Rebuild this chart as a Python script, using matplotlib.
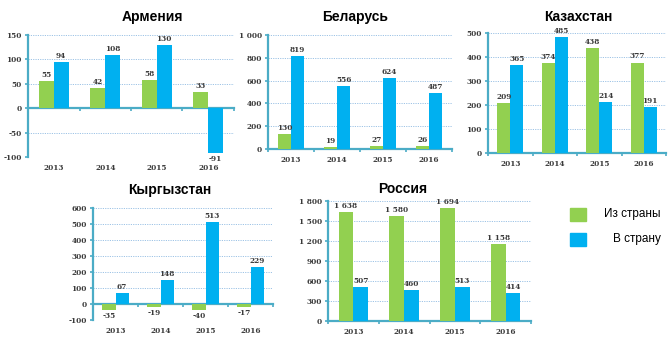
"""
plot.py — Migration balance by country, 2013-2016 (two series per year).
Saves out.png at 671x340 px.
"""

import matplotlib
matplotlib.use("Agg")
import matplotlib.pyplot as plt
from matplotlib.patches import Rectangle
import numpy as np

W, H, DPI = 671, 340, 100

YEARS = ["2013", "2014", "2015", "2016"]

ARMENIA_OUT = [55, 42, 58, 33]
ARMENIA_IN = [94, 108, 130, -91]

BELARUS_OUT = [130, 19, 27, 26]
BELARUS_IN = [819, 556, 624, 487]

KAZAKH_OUT = [209, 374, 438, 377]
KAZAKH_IN = [365, 485, 214, 191]

KYRGYZ_OUT = [-35, -19, -40, -17]
KYRGYZ_IN = [67, 148, 513, 229]

RUSSIA_OUT = [1638, 1580, 1694, 1158]
RUSSIA_IN = [507, 460, 513, 414]

LEGEND_LABELS = ["Из страны", "В страну"]

GREEN = "#92D050"
BLUE = "#00B0F0"
AXIS_COL = "#4BACC6"
GRID_COL = "#9DC3E6"
TEXT_COL = "#3A3A3A"
TICK_FONT = "DejaVu Serif"
TICK_SIZE = 5.3

# pixel boxes: (title, out, in, left, right, top, bottom, ymin, ymax, ystep, title_x, title_y)
PANELS = [
    ("Армения", ARMENIA_OUT, ARMENIA_IN, 28, 234, 35, 157, -100, 150, 50, 152, 17),
    ("Беларусь", BELARUS_OUT, BELARUS_IN, 268, 452, 35, 149, 0, 1000, 200, 355, 17),
    ("Казахстан", KAZAKH_OUT, KAZAKH_IN, 488, 666, 33, 153, 0, 500, 100, 578, 17),
    ("Кыргызстан", KYRGYZ_OUT, KYRGYZ_IN, 93, 273, 208, 320, -100, 600, 100, 170, 190),
    ("Россия", RUSSIA_OUT, RUSSIA_IN, 328, 531, 201, 321, 0, 1800, 300, 403, 189),
]


def fmt(v):
    return f"{v:,}".replace(",", " ")


def px_box(left, right, top, bottom):
    return [left / W, 1 - bottom / H, (right - left) / W, (bottom - top) / H]


def draw_panel(fig, title, out_vals, in_vals, left, right, top, bottom,
               ymin, ymax, ystep, tx, ty):
    ax = fig.add_axes(px_box(left, right, top, bottom))
    x = np.arange(len(YEARS))
    bw = 0.29
    txt = dict(fontsize=TICK_SIZE, family=TICK_FONT, fontweight="bold", color=TEXT_COL)

    ax.bar(x - bw / 2, out_vals, bw, color=GREEN, zorder=3)
    ax.bar(x + bw / 2, in_vals, bw, color=BLUE, zorder=3)

    for xs, vals in ((x - bw / 2, out_vals), (x + bw / 2, in_vals)):
        for xi, v in zip(xs, vals):
            off = 1.5 if v >= 0 else -1.5
            ax.annotate(fmt(v), (xi, v), xytext=(0, off), textcoords="offset points",
                        ha="center", va="bottom" if v >= 0 else "top", zorder=4, **txt)

    ax.set_xlim(-0.5, len(YEARS) - 0.5)
    ax.set_ylim(ymin, ymax)
    yt = np.arange(ymin, ymax + 1, ystep)
    ax.set_yticks(yt)
    ax.set_yticklabels([fmt(v) for v in yt], **txt)
    ax.grid(axis="y", color=GRID_COL, linestyle=(0, (1.2, 1.2)), linewidth=0.7, zorder=0)

    ax.set_xticks(np.arange(len(YEARS) + 1) - 0.5)
    ax.set_xticklabels([])
    for i, yr in enumerate(YEARS):
        ax.text(i, -0.06, yr, transform=ax.get_xaxis_transform(), ha="center",
                va="top", **txt)

    for s in ("top", "right"):
        ax.spines[s].set_visible(False)
    ax.spines["bottom"].set_position(("data", 0))
    for s in ("left", "bottom"):
        ax.spines[s].set_color(AXIS_COL)
        ax.spines[s].set_linewidth(1.6)
    ax.tick_params(axis="both", colors=AXIS_COL, length=2.5, width=1.2, pad=2)
    ax.tick_params(axis="y", labelcolor=TEXT_COL)
    ax.set_facecolor("none")

    fig.text(tx / W, 1 - ty / H, title, ha="center", va="center",
             fontsize=10, fontweight="bold", family="Liberation Sans", color="black")
    return ax


def main():
    fig = plt.figure(figsize=(W / DPI, H / DPI), dpi=DPI)
    fig.patch.set_facecolor("white")

    for p in PANELS:
        draw_panel(fig, *p)

    # legend
    for i, (lab, col) in enumerate(zip(LEGEND_LABELS, (GREEN, BLUE))):
        yc = 214 + i * 25
        fig.patches.append(Rectangle((570 / W, 1 - (yc + 6.5) / H), 16 / W, 13 / H,
                                     transform=fig.transFigure, color=col))
        fig.text(661 / W, 1 - yc / H, lab, ha="right", va="center", fontsize=8.5,
                 family="Liberation Sans", color="black")

    fig.savefig("out.png", dpi=DPI)
    plt.close(fig)


if __name__ == "__main__":
    main()
